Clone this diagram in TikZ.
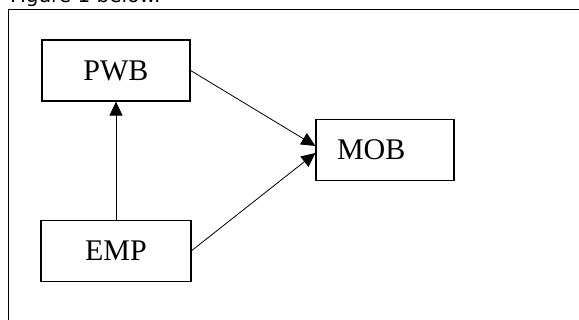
\documentclass[tikz,border=0pt]{standalone}
\usepackage{fontspec}
\setmainfont{Liberation Serif}
\newfontfamily\captionfont{DejaVu Sans}
\usetikzlibrary{positioning,arrows.meta}

\begin{document}
\begin{tikzpicture}[x=1pt, y=-1pt,
  box/.style = {draw, line width=1.2pt, minimum width=148pt, minimum height=61pt,
                inner sep=0pt, font=\fontsize{30}{36}\selectfont},
  link/.style = {line width=0.8pt, -{Triangle[length=14pt,width=13pt]}}]
\clip (0,0) rectangle (579,320);
% caption line cut at the top, and the frame round the figure
\node[anchor=base west, inner sep=0pt, font=\captionfont\fontsize{20}{24}\selectfont] (caption) at (10,3) {Figure 1 below.};
\draw[line width=1.5pt] (8.5,340) |- (600,9.5);
% the three variables
\node[box] (pwb) at (116,70.5) {PWB};
\node[box, minimum width=150pt] (emp) [below=118pt of pwb] {EMP};
\node[box, minimum width=138pt, text width=96pt, align=left] (mob) at (385,150) {MOB};
\draw[link] (emp) -- (pwb);
\draw[link] (pwb.east) -- ([yshift=4pt]mob.west);
\draw[link] (emp.east) -- ([yshift=-3pt]mob.west);
\end{tikzpicture}
\end{document}
